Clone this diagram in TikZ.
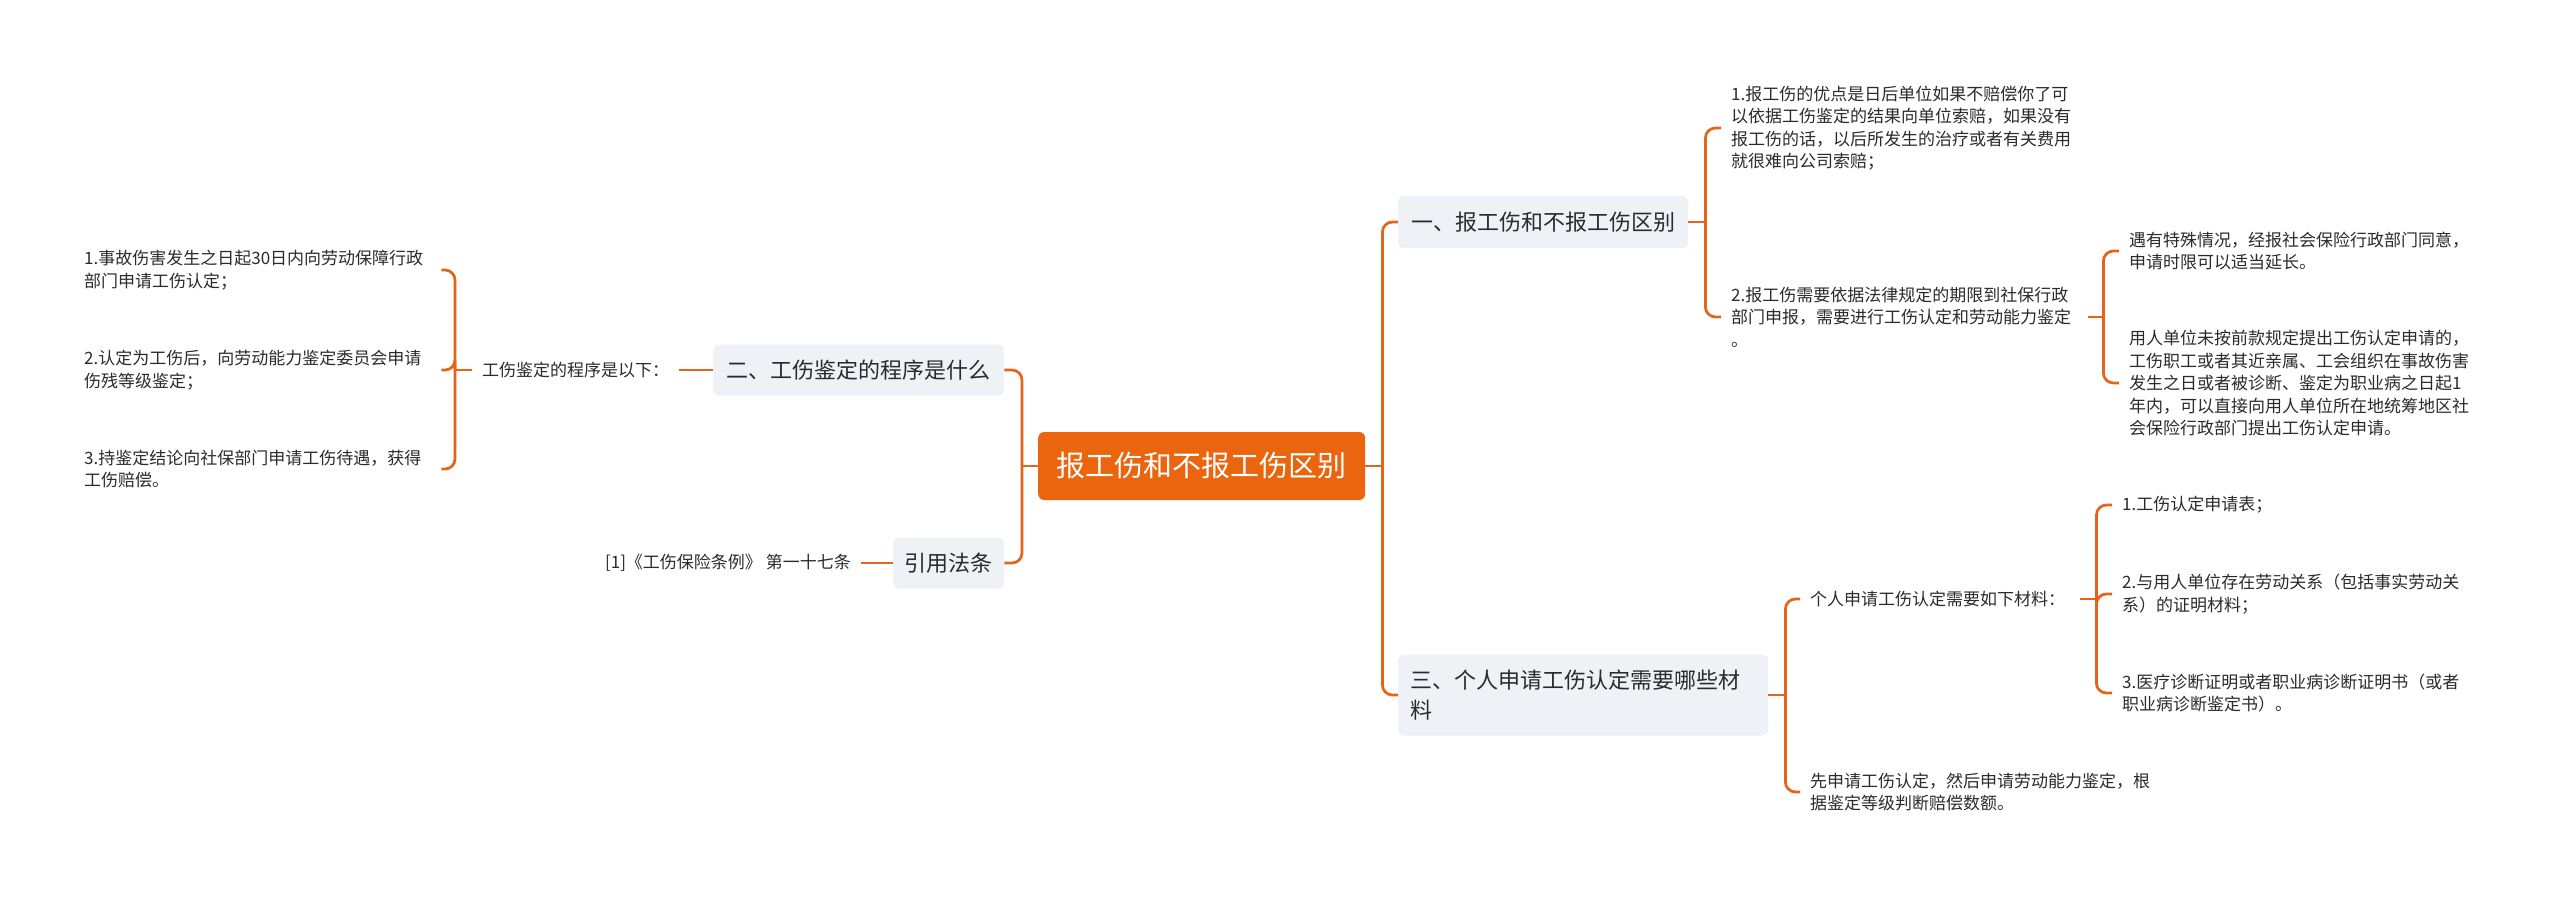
\documentclass[tikz,border=0pt]{standalone}
\usepackage{fontspec}
\setmainfont{Noto Sans CJK SC}
\usetikzlibrary{calc}
\definecolor{orng}{HTML}{EB640E}
\definecolor{lineo}{HTML}{E5641A}
\definecolor{boxg}{HTML}{EEF1F5}
\definecolor{txt}{HTML}{2B2B2B}
\begin{document}
\begin{tikzpicture}[x=1pt,y=-1pt,
  conn/.style={draw=lineo, line width=2.7pt, rounded corners=10pt},
  leaf/.style={anchor=west, inner xsep=10pt, inner ysep=0pt, align=left, text=txt, font=\fontsize{17}{22.5}\selectfont},
  branch/.style={anchor=west, fill=boxg, rounded corners=6pt, text=txt, font=\fontsize{22}{30}\selectfont, inner sep=0pt},
]
\useasboundingbox[fill=white] (0,0) rectangle (2560,898);

% central
\node[anchor=west, fill=orng, rounded corners=6pt, text=white, font=\fontsize{29}{36}\selectfont,
      minimum width=327pt, minimum height=68pt, inner sep=0pt] (c) at (1038,466) {报工伤和不报工伤区别};

% main branches
\node[branch, minimum width=291pt, minimum height=51pt] (b2) at (713,370) {二、工伤鉴定的程序是什么};
\node[branch, minimum width=111pt, minimum height=51pt] (b4) at (893,563) {引用法条};
\node[branch, minimum width=290pt, minimum height=52pt] (b1) at (1398,222) {一、报工伤和不报工伤区别};
\node[branch, minimum height=81pt, align=left, text width=346pt, inner xsep=12pt] (b3) at (1398,695) {三、个人申请工伤认定需要哪些材\\料};

% left leaves
\node[leaf] (n2a) at (472,370) {工伤鉴定的程序是以下：};
\node[leaf, text width=347pt] (i1) at (74,270) {1.事故伤害发生之日起30日内向劳动保障行政\\部门申请工伤认定；};
\node[leaf, text width=347pt] (i2) at (74,370) {2.认定为工伤后，向劳动能力鉴定委员会申请\\伤残等级鉴定；};
\node[leaf, text width=347pt] (i3) at (74,469) {3.持鉴定结论向社保部门申请工伤待遇，获得\\工伤赔偿。};
\node[leaf, anchor=east] (cite) at (861,563) {[1]《工伤保险条例》 第一十七条};

% right leaves
\node[leaf, text width=347pt] (r1) at (1721,128) {1.报工伤的优点是日后单位如果不赔偿你了可\\以依据工伤鉴定的结果向单位索赔，如果没有\\报工伤的话，以后所发生的治疗或者有关费用\\就很难向公司索赔；};
\node[leaf, text width=347pt] (r2) at (1721,317) {2.报工伤需要依据法律规定的期限到社保行政\\部门申报，需要进行工伤认定和劳动能力鉴定\\。};
\node[leaf] (r2a) at (2119,251) {遇有特殊情况，经报社会保险行政部门同意，\\申请时限可以适当延长。};
\node[leaf] (r2b) at (2119,383) {用人单位未按前款规定提出工伤认定申请的，\\工伤职工或者其近亲属、工会组织在事故伤害\\发生之日或者被诊断、鉴定为职业病之日起1\\年内，可以直接向用人单位所在地统筹地区社\\会保险行政部门提出工伤认定申请。};
\node[leaf, text width=260pt] (r3a) at (1800,599) {个人申请工伤认定需要如下材料：};
\node[leaf] (r3b) at (1800,792) {先申请工伤认定，然后申请劳动能力鉴定，根\\据鉴定等级判断赔偿数额。};
\node[leaf] (m1) at (2112,505) {1.工伤认定申请表；};
\node[leaf] (m2) at (2112,594) {2.与用人单位存在劳动关系（包括事实劳动关\\系）的证明材料；};
\node[leaf] (m3) at (2112,693) {3.医疗诊断证明或者职业病诊断证明书（或者\\职业病诊断鉴定书）。};

% spine coordinates
\coordinate (sL) at ($(c.west)+(-16,0)$);
\coordinate (sR) at ($(c.east)+(17,0)$);
\coordinate (s2) at ($(n2a.west)+(-17,0)$);
\coordinate (s1) at ($(b1.east)+(17,0)$);
\coordinate (s12) at ($(r2.east)+(15,0)$);
\coordinate (s3) at ($(b3.east)+(17,0)$);
\coordinate (s3a) at ($(r3a.east)+(16,0)$);

% connectors
\draw[conn] (c.west) -- (sL);
\draw[conn] (sL) |- (b2.east);
\draw[conn] (sL) |- (b4.east);
\draw[conn] (c.east) -- (sR);
\draw[conn] (sR) |- (b1.west);
\draw[conn] (sR) |- (b3.west);

\draw[conn] (b2.west) -- (n2a.east);
\draw[conn] (n2a.west) -- (s2);
\draw[conn] (s2) |- (i1.east);
\draw[conn] (s2) |- (i2.east);
\draw[conn] (s2) |- (i3.east);
\draw[conn] (b4.west) -- (cite.east);

\draw[conn] (b1.east) -- (s1);
\draw[conn] (s1) |- (r1.west);
\draw[conn] (s1) |- (r2.west);
\draw[conn] (r2.east) -- (s12);
\draw[conn] (s12) |- (r2a.west);
\draw[conn] (s12) |- (r2b.west);

\draw[conn] (b3.east) -- (s3);
\draw[conn] (s3) |- (r3a.west);
\draw[conn] (s3) |- (r3b.west);
\draw[conn] (r3a.east) -- (s3a);
\draw[conn] (s3a) |- (m1.west);
\draw[conn] (s3a) |- (m2.west);
\draw[conn] (s3a) |- (m3.west);
\end{tikzpicture}
\end{document}
